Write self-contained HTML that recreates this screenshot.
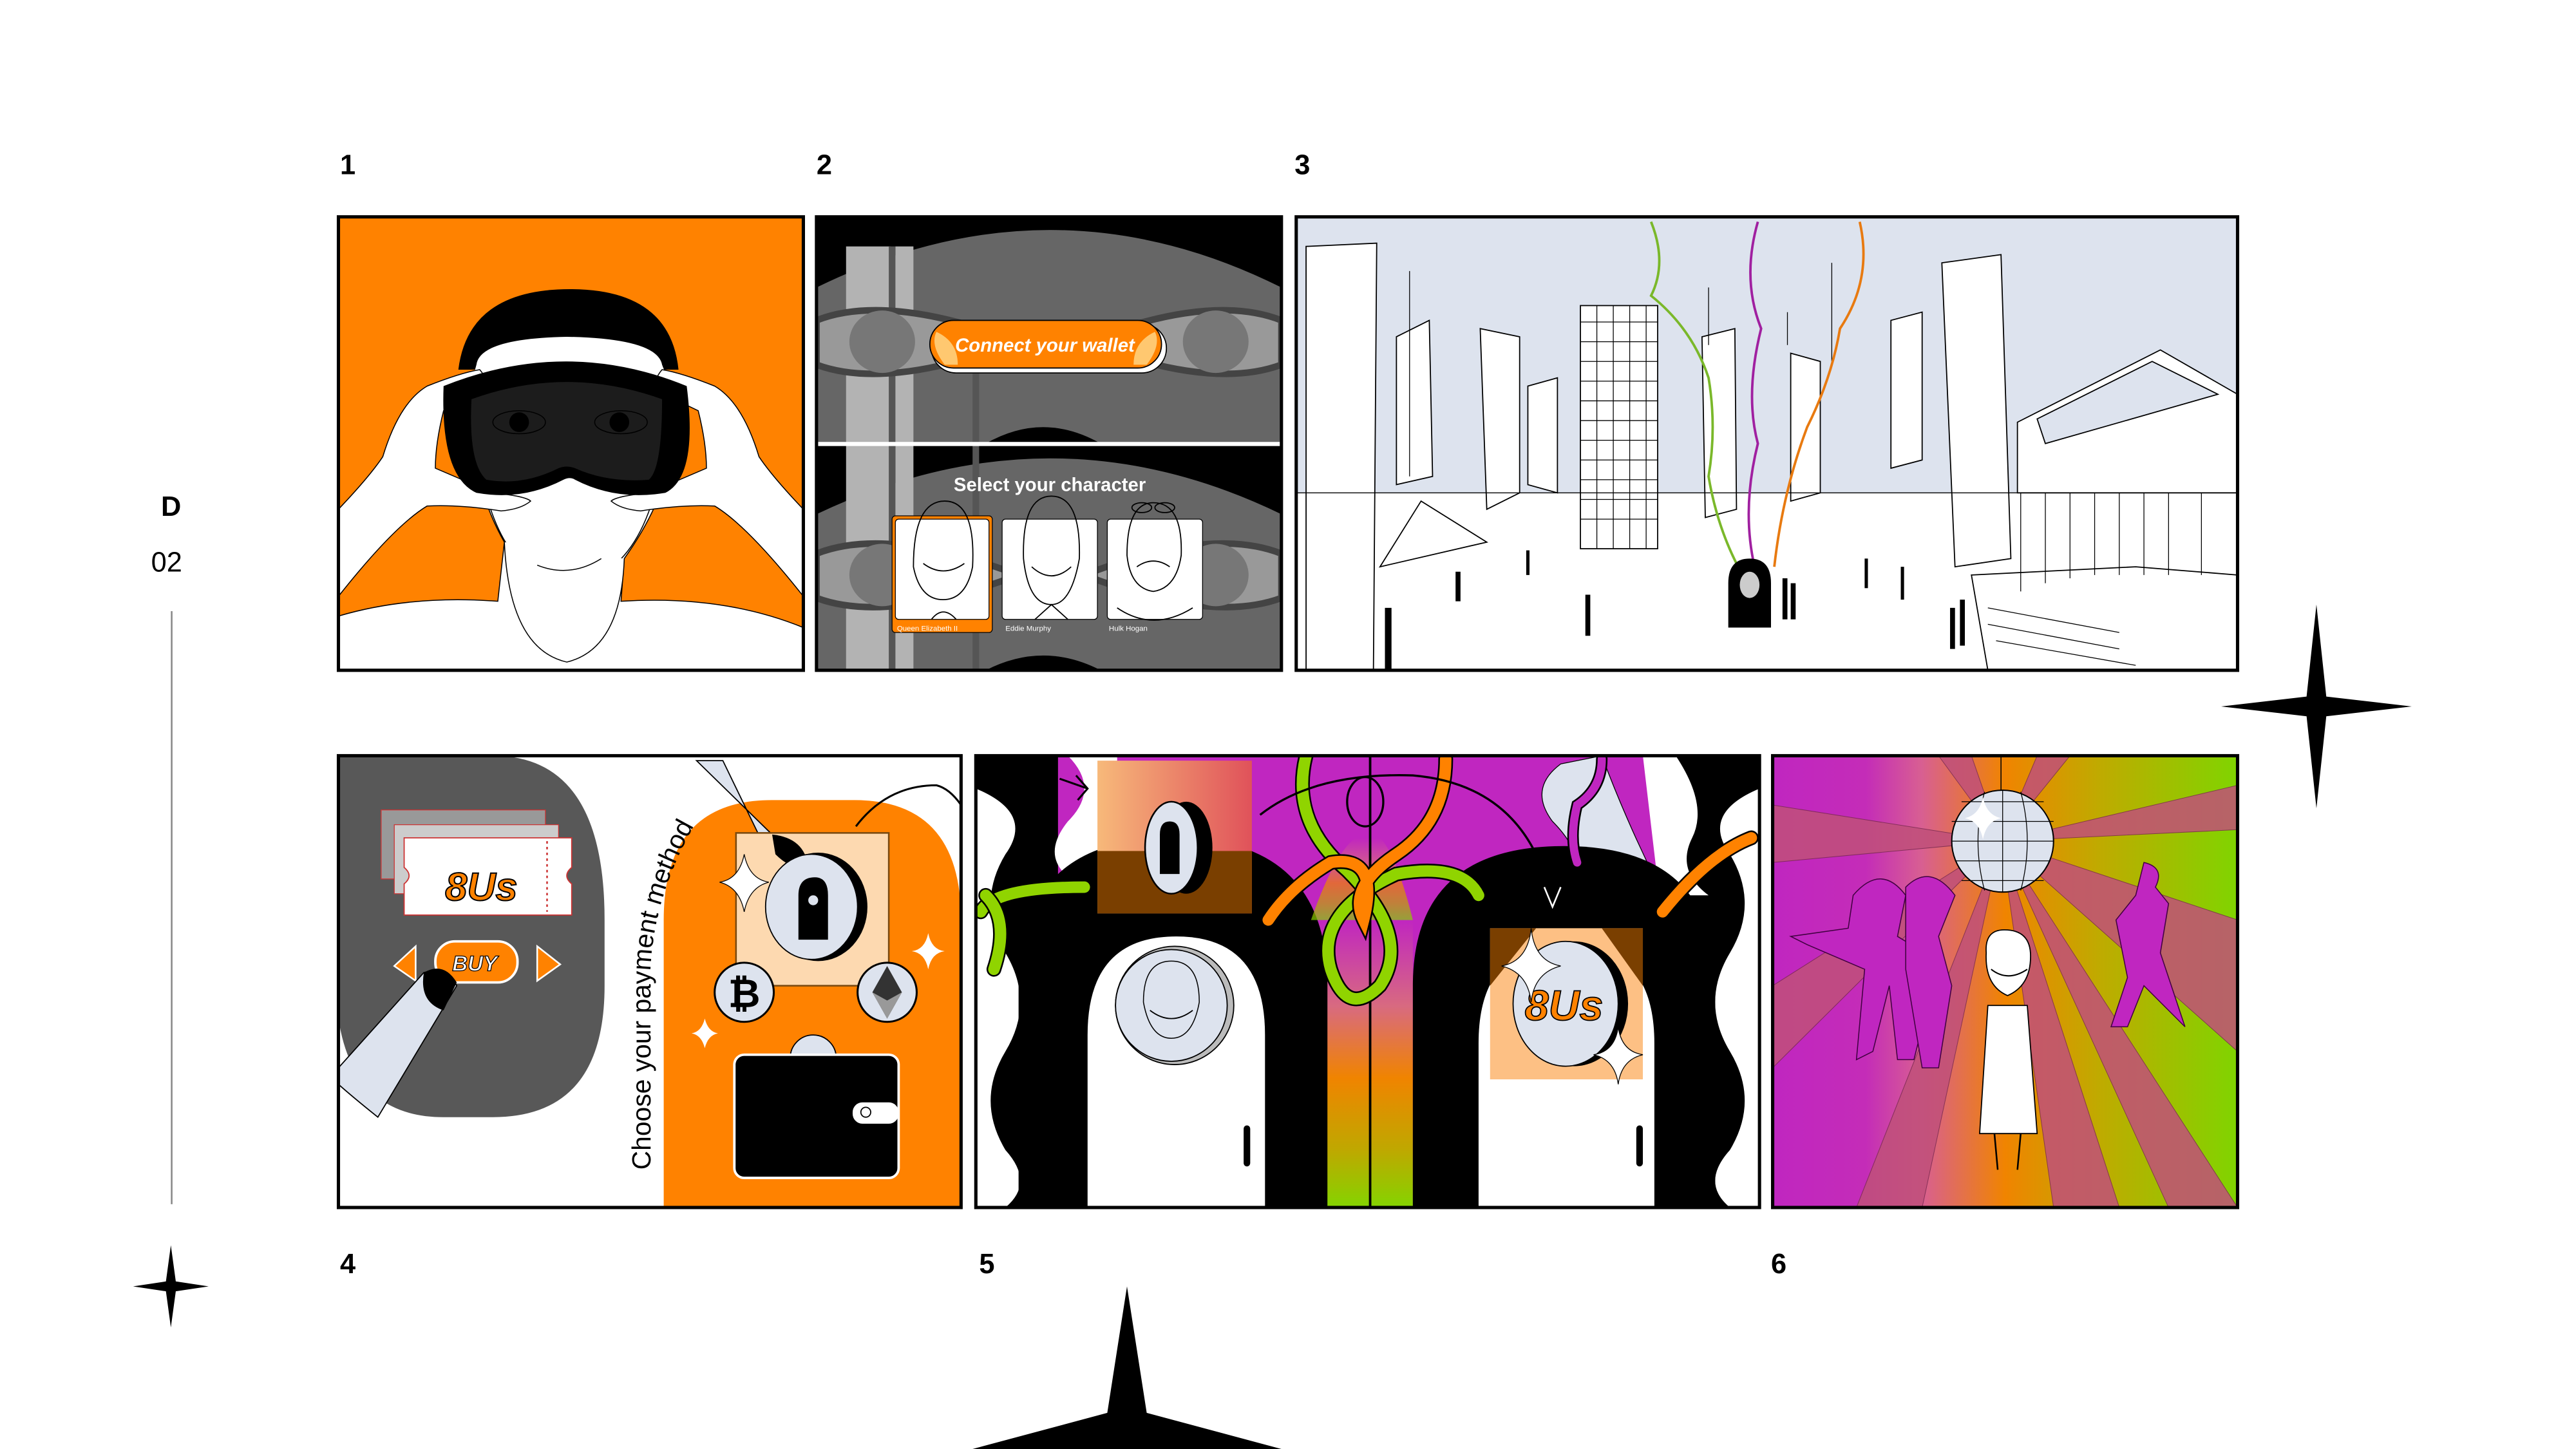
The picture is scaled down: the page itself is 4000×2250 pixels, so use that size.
<!DOCTYPE html>
<html><head><meta charset="utf-8"><style>
html,body{margin:0;padding:0;background:#fff;}
svg{display:block;}
text{font-family:"Liberation Sans",sans-serif;}
</style></head><body>
<svg width="4000" height="2250" viewBox="0 0 1568 882" xmlns="http://www.w3.org/2000/svg">
<defs>
<linearGradient id="g6" x1="0" x2="1" y1="0" y2="0">
<stop offset="0" stop-color="#c026c0"/><stop offset="0.2" stop-color="#c42cb8"/><stop offset="0.32" stop-color="#d85f92"/><stop offset="0.5" stop-color="#f08400"/><stop offset="0.7" stop-color="#c0aa00"/><stop offset="1" stop-color="#80d400"/>
</linearGradient>
<linearGradient id="g5c" x1="0" x2="0" y1="0" y2="1">
<stop offset="0" stop-color="#c026c0"/><stop offset="0.3" stop-color="#d86a80"/><stop offset="0.55" stop-color="#f08400"/><stop offset="0.8" stop-color="#bfa800"/><stop offset="1" stop-color="#84d400"/>
</linearGradient>
<linearGradient id="sq" x1="0" x2="1" y1="0" y2="0">
<stop offset="0" stop-color="#f7b97a"/><stop offset="1" stop-color="#e0525a"/>
</linearGradient>
<clipPath id="c1"><rect x="206" y="132" width="283" height="276"/></clipPath>
<clipPath id="c2"><rect x="497" y="132" width="283" height="276"/></clipPath>
<clipPath id="c3"><rect x="789" y="132" width="573" height="276"/></clipPath>
<clipPath id="c4"><rect x="206" y="460" width="379" height="275"/></clipPath>
<clipPath id="c5"><rect x="594" y="460" width="477" height="275"/></clipPath>
<clipPath id="c6"><rect x="1079" y="460" width="283" height="275"/></clipPath>
</defs>

<g font-family="Liberation Sans" font-weight="bold" font-size="17" fill="#000">
<text x="207" y="106">1</text><text x="497" y="106">2</text><text x="788" y="106">3</text>
<text x="207" y="775">4</text><text x="596" y="775">5</text><text x="1078" y="775">6</text>
<text x="98" y="314">D</text>
</g>
<text x="92" y="348" font-family="Liberation Mono" font-size="17" fill="#000">02</text>
<line x1="104.5" y1="372" x2="104.5" y2="733" stroke="#888" stroke-width="1"/>

<path d="M1410 368 L1416 424 L1468 430 L1416 436 L1410 492 L1404 436 L1352 430 L1404 424Z" fill="#000"/>
<path d="M104 758 L107 780 L127 783 L107 786 L104 808 L101 786 L81 783 L101 780Z" fill="#000"/>
<path d="M686 783 L698 860 L780 882 L592 882 L674 860Z" fill="#000"/>

<!-- PANEL 1 -->
<g clip-path="url(#c1)">
<rect x="206" y="132" width="283" height="276" fill="#ff8200"/>
<path d="M206 375 Q250 362 303 366 L307 330 Q290 300 290 270 L410 270 Q405 305 380 340 L378 366 Q440 362 489 382 L489 408 L206 408Z" fill="#fff" stroke="#000" stroke-width="0.6"/>
<path d="M290 270 Q300 350 345 357 Q395 350 404 270Z" fill="#fff" stroke="#000" stroke-width="0.6"/>
<path d="M307 330 Q310 395 345 403 Q378 395 380 340" fill="#fff" stroke="#000" stroke-width="0.6"/>
<path d="M327 344 Q347 352 366 340" fill="none" stroke="#000" stroke-width="0.6"/>
<path d="M279 225 Q285 176 347 176 Q408 176 413 225Z" fill="#000"/>
<path d="M290 222 Q292 206 345 205 Q400 206 403 222 L410 240 L285 240Z" fill="#fff"/>
<path d="M206 310 Q225 290 233 278 Q243 245 260 235 Q280 227 292 225 Q298 232 295 238 L270 250 Q265 270 265 285 L300 300 Q320 302 323 305 Q317 310 305 311 Q280 307 260 308 Q240 320 206 363Z" fill="#fff" stroke="#000" stroke-width="0.6"/>
<path d="M489 310 Q470 290 462 278 Q452 245 435 235 Q415 227 403 225 Q397 232 400 238 L425 250 Q430 270 430 285 L395 300 Q375 302 372 305 Q378 310 390 311 Q415 307 435 308 Q455 320 489 363Z" fill="#fff" stroke="#000" stroke-width="0.6"/>
<path d="M270 235 Q345 205 418 235 Q425 290 405 300 Q375 305 350 292 Q347 290 343 292 Q318 305 290 300 Q268 290 270 235Z" fill="#000"/>
<path d="M287 243 Q345 222 403 243 Q403 285 395 292 Q370 294 350 285 Q345 283 340 285 Q318 296 296 292 Q285 282 287 243Z" fill="#1c1c1c"/>
<ellipse cx="316" cy="257" rx="16" ry="7" fill="none" stroke="#000" stroke-width="0.6"/><circle cx="316" cy="257" r="6" fill="#000"/>
<ellipse cx="378" cy="257" rx="16" ry="7" fill="none" stroke="#000" stroke-width="0.6"/><circle cx="377" cy="257" r="6" fill="#000"/>
</g>
<rect x="206" y="132" width="283" height="276" fill="none" stroke="#000" stroke-width="2"/>

<!-- PANEL 2 -->
<g clip-path="url(#c2)">
<rect x="497" y="132" width="283" height="276" fill="#000"/>
<path d="M497 175 Q640 105 780 175 L780 270 L497 270Z" fill="#666"/>
<path d="M497 313 Q640 245 780 313 L780 408 L497 408Z" fill="#666"/>
<rect x="515" y="150" width="27" height="258" fill="#b3b3b3"/>
<rect x="545" y="150" width="11" height="258" fill="#b3b3b3"/>
<rect x="541" y="150" width="4" height="258" fill="#555"/>
<rect x="592" y="225" width="4" height="183" fill="#555"/>
<path d="M497 195 Q540 178 620 208 Q540 238 497 222Z" fill="#999" stroke="#444" stroke-width="4"/>
<path d="M780 195 Q737 178 660 208 Q737 238 780 222Z" fill="#999" stroke="#444" stroke-width="4"/>
<ellipse cx="537" cy="208" rx="20" ry="19" fill="#777"/><ellipse cx="740" cy="208" rx="20" ry="19" fill="#777"/>
<path d="M497 337 Q540 320 620 350 Q540 380 497 364Z" fill="#999" stroke="#444" stroke-width="4"/>
<path d="M780 337 Q737 320 660 350 Q737 380 780 364Z" fill="#999" stroke="#444" stroke-width="4"/>
<ellipse cx="537" cy="350" rx="20" ry="19" fill="#777"/><ellipse cx="740" cy="350" rx="20" ry="19" fill="#777"/>
<path d="M600 270 Q635 250 670 270Z" fill="#000"/>
<path d="M600 408 Q635 390 670 408Z" fill="#000"/>
<rect x="497" y="269" width="283" height="2.5" fill="#fff"/>
<rect x="567" y="197" width="143" height="30" rx="15" fill="#fff" stroke="#000" stroke-width="0.7"/>
<rect x="566" y="195" width="141" height="29" rx="14.5" fill="#ff8200" stroke="#000" stroke-width="0.7"/>
<path d="M570 202 Q583 208 583 222 L575 222 Q566 210 570 202Z M703 202 Q690 208 690 222 L698 222 Q707 210 703 202Z" fill="#ffc870"/>
<text x="636" y="214" text-anchor="middle" font-size="11.5" font-weight="bold" font-style="italic" fill="#fff">Connect your wallet</text>
<text x="639" y="299" text-anchor="middle" font-size="11.5" font-weight="bold" fill="#fff">Select your character</text>
<rect x="543" y="314" width="61" height="71" rx="2" fill="#ff8200" stroke="#000" stroke-width="0.5"/>
<rect x="545" y="316" width="57" height="61" rx="2" fill="#fff" stroke="#000" stroke-width="0.5"/>
<rect x="610" y="316" width="58" height="61" rx="2" fill="#fff" stroke="#000" stroke-width="0.5"/>
<rect x="674" y="316" width="58" height="61" rx="2" fill="#fff" stroke="#000" stroke-width="0.5"/>
<g fill="none" stroke="#000" stroke-width="0.7">
<path d="M556 345 Q556 305 575 305 Q594 305 592 345 Q588 365 574 365 Q560 365 556 345Z"/>
<path d="M562 343 Q574 352 587 343"/><path d="M567 377 Q574 368 582 377"/>
<path d="M623 340 Q622 302 640 302 Q658 302 657 340 Q652 368 640 368 Q626 368 623 340Z"/>
<path d="M628 345 Q640 356 652 345"/><path d="M630 377 L640 368 L650 377"/>
<path d="M686 338 Q686 306 702 306 Q720 306 719 338 Q716 358 702 360 Q688 358 686 338Z"/>
<path d="M692 345 Q702 338 712 345"/><ellipse cx="695" cy="309" rx="6" ry="3"/><ellipse cx="709" cy="309" rx="6" ry="3"/>
<path d="M680 370 Q702 385 726 370"/>
</g>
<text x="546" y="384" font-size="4.5" fill="#fff">Queen Elizabeth II</text>
<text x="612" y="384" font-size="4.5" fill="#fff">Eddie Murphy</text>
<text x="675" y="384" font-size="4.5" fill="#fff">Hulk Hogan</text>
</g>
<rect x="497" y="132" width="283" height="276" fill="none" stroke="#000" stroke-width="2"/>

<!-- PANEL 3 -->
<g clip-path="url(#c3)">
<rect x="789" y="132" width="573" height="276" fill="#dde3ee"/>
<rect x="789" y="300" width="573" height="108" fill="#fff"/>
<g fill="#fff" stroke="#000" stroke-width="0.7">
<path d="M795 150 L838 148 L836 408 L795 408Z"/>
<path d="M850 205 L870 195 L872 290 L850 295Z"/>
<path d="M901 200 L925 205 L925 300 L905 310Z"/>
<path d="M930 235 L948 230 L948 300 L930 295Z"/>
<rect x="962" y="186" width="47" height="148"/>
<path d="M1036 205 L1056 200 L1057 310 L1038 315Z"/>
<path d="M1090 215 L1108 220 L1108 300 L1090 305Z"/>
<path d="M1151 195 L1170 190 L1170 280 L1151 285Z"/>
<path d="M1182 160 L1218 155 L1224 340 L1190 345Z"/>
<path d="M1228 257 L1315 213 L1362 240 L1362 300 L1228 300Z"/>
<path d="M1240 255 L1310 220 L1350 240 L1245 270Z" fill="#dde3ee"/>
<path d="M840 345 L865 305 L905 330Z"/>
<path d="M1200 350 L1300 345 L1362 350 L1362 408 L1210 408Z"/>
</g>
<g stroke="#000" stroke-width="0.5">
<path d="M962 196 H1009 M962 208 H1009 M962 220 H1009 M962 232 H1009 M962 244 H1009 M962 256 H1009 M962 268 H1009 M962 280 H1009 M962 292 H1009 M962 304 H1009 M962 316 H1009"/>
<path d="M972 186 V334 M982 186 V334 M992 186 V334 M1002 186 V334"/>
<path d="M789 300 H1362"/>
<path d="M1230 300 V360 M1245 300 V355 M1260 300 V352 M1275 300 V350 M1290 300 V350 M1305 300 V350 M1320 300 V350 M1340 300 V350"/>
<path d="M1210 370 L1290 385 M1210 380 L1290 395 M1215 390 L1300 405"/>
<path d="M858 165 V290 M1040 175 V210 M1115 160 V220 M1088 190 V210"/>
</g>
<path d="M1005 135 Q1015 160 1005 180 Q1030 200 1040 230 Q1045 260 1040 290 Q1045 320 1058 345" fill="none" stroke="#7ab82a" stroke-width="1.5"/>
<path d="M1070 135 Q1060 170 1072 200 Q1062 240 1070 270 Q1060 310 1068 345" fill="none" stroke="#a020a0" stroke-width="1.5"/>
<path d="M1132 135 Q1140 170 1120 200 Q1115 230 1100 260 Q1085 300 1080 345" fill="none" stroke="#e87a10" stroke-width="1.5"/>
<path d="M1052 382 V355 Q1052 340 1065 340 Q1078 340 1078 355 V382Z" fill="#000"/>
<ellipse cx="1065" cy="356" rx="6" ry="8" fill="#ccc"/>
<g fill="#000">
<rect x="843" y="370" width="4" height="38"/><rect x="965" y="362" width="3" height="25"/><rect x="886" y="348" width="3" height="18"/><rect x="929" y="335" width="2" height="15"/><rect x="1085" y="352" width="3" height="25"/><rect x="1090" y="355" width="3" height="22"/><rect x="1135" y="340" width="2" height="18"/><rect x="1157" y="345" width="2" height="20"/><rect x="1187" y="370" width="3" height="25"/><rect x="1193" y="365" width="3" height="28"/>
</g>
</g>
<rect x="789" y="132" width="573" height="276" fill="none" stroke="#000" stroke-width="2"/>

<!-- PANEL 4 -->
<g clip-path="url(#c4)">
<rect x="206" y="460" width="379" height="275" fill="#fff"/>
<path d="M206 460 H300 Q368 460 368 560 V600 Q368 680 300 680 H270 Q215 680 206 620Z" fill="#585858"/>
<path d="M404 735 V560 Q404 487 470 487 H520 Q585 487 585 560 V735Z" fill="#ff8200"/>
<rect x="232" y="493" width="100" height="42" fill="#999" stroke="#c33" stroke-width="0.5"/>
<rect x="240" y="502" width="100" height="42" fill="#ccc" stroke="#c33" stroke-width="0.5"/>
<path d="M246 510 H348 V528 Q342 533 348 538 V557 H246 V538 Q252 533 246 528Z" fill="#fff" stroke="#c33" stroke-width="0.7"/>
<line x1="333" y1="512" x2="333" y2="555" stroke="#c33" stroke-width="1" stroke-dasharray="1.5 2"/>
<text x="293" y="548" text-anchor="middle" font-size="24" font-weight="bold" font-style="italic" fill="#ff8200" stroke="#000" stroke-width="0.8">8Us</text>
<rect x="265" y="573" width="50" height="25" rx="12" fill="#ff8200" stroke="#fff" stroke-width="1.5"/>
<text x="289" y="591" text-anchor="middle" font-size="13" font-weight="bold" font-style="italic" fill="#fff" stroke="#000" stroke-width="0.5">BUY</text>
<path d="M253 576 L240 588 L253 597Z M327 576 L341 587 L327 597Z" fill="#ff8200" stroke="#fff" stroke-width="1"/>
<path d="M206 650 L258 592 Q272 588 278 600 L230 680 Q215 668 206 660Z" fill="#dde3ee" stroke="#000" stroke-width="0.7"/>
<path d="M258 592 Q270 585 278 598 L270 615 Q255 610 258 592Z" fill="#000"/>
<path d="M424 463 L470 508 Q490 520 492 530 Q480 535 470 525 L440 463Z" fill="#dde3ee" stroke="#000" stroke-width="0.7"/>
<rect x="448" y="507" width="93" height="93" fill="#fdd9b0" stroke="#7a4a10" stroke-width="1"/>
<path d="M470 508 Q490 510 492 528 Q482 530 472 520Z" fill="#000"/>
<ellipse cx="498" cy="552" rx="30" ry="33" fill="#000"/>
<ellipse cx="494" cy="552" rx="28" ry="32" fill="#dde3ee" stroke="#000" stroke-width="0.7"/>
<path d="M486 572 V545 Q486 534 496 534 Q504 534 504 545 V572Z" fill="#000"/>
<circle cx="495" cy="548" r="3" fill="#dde3ee"/>
<circle cx="453" cy="604" r="18" fill="#dde3ee" stroke="#000" stroke-width="1.2"/>
<text x="453" y="613" text-anchor="middle" font-size="24" font-weight="bold" fill="#000">₿</text>
<circle cx="540" cy="604" r="18" fill="#dde3ee" stroke="#000" stroke-width="1.2"/>
<path d="M540 588 L549 604 L540 620 L531 604Z" fill="#333"/>
<path d="M531 604 L540 609 L549 604 L540 620Z" fill="#999"/>
<circle cx="495" cy="644" r="14" fill="#dde3ee" stroke="#000" stroke-width="0.7"/>
<rect x="447" y="642" width="100" height="75" rx="6" fill="#000" stroke="#fff" stroke-width="1.5"/>
<rect x="519" y="671" width="28" height="13" rx="6" fill="#fff"/><circle cx="527" cy="677" r="3" fill="none" stroke="#000" stroke-width="0.7"/>
<path d="M453 520 Q456 535 468 537 Q456 540 453 555 Q450 540 438 537 Q450 535 453 520Z" fill="#fff" stroke="#000" stroke-width="0.5"/>
<path d="M565 568 Q567 578 575 579 Q567 580 565 590 Q563 580 555 579 Q563 578 565 568Z" fill="#fff"/>
<path d="M429 620 Q431 628 437 629 Q431 630 429 638 Q427 630 421 629 Q427 628 429 620Z" fill="#fff"/>
<path d="M521 503 Q540 478 570 478 Q578 480 585 490" fill="none" stroke="#000" stroke-width="1.2"/>
<path id="tp" d="M396 712 V590 Q398 540 430 490" fill="none"/>
<text font-size="16" fill="#000"><textPath href="#tp">Choose your payment method</textPath></text>
</g>
<rect x="206" y="460" width="379" height="275" fill="none" stroke="#000" stroke-width="2"/>

<!-- PANEL 5 -->
<g clip-path="url(#c5)">
<rect x="594" y="460" width="477" height="275" fill="#c026c0"/>
<rect x="594" y="460" width="50" height="275" fill="#000"/>
<rect x="1020" y="460" width="51" height="275" fill="#000"/>
<path d="M594 480 Q630 495 612 520 Q594 550 612 580 Q630 610 612 640 Q594 670 612 700 Q630 720 612 735 H594Z" fill="#fff"/>
<path d="M650 460 Q670 480 650 500 Q630 525 660 540 L680 540 L680 460Z" fill="#fff"/>
<path d="M1071 480 Q1035 495 1053 520 Q1071 550 1053 580 Q1035 610 1053 640 Q1071 670 1053 700 Q1035 720 1053 735 H1071Z" fill="#fff"/>
<path d="M1020 460 Q1040 490 1030 510 Q1020 530 1040 545 L1010 545 L1000 460Z" fill="#fff"/>
<path d="M950 465 Q930 480 945 500 Q965 520 960 540 L1010 540 Q990 500 975 460Z" fill="#dde3ee" stroke="#000" stroke-width="0.5"/>
<rect x="798" y="560" width="62" height="175" fill="url(#g5c)"/>
<path d="M620 735 V600 Q620 510 714 510 Q808 510 808 600 V735Z" fill="#000"/>
<path d="M662 735 V630 Q662 570 716 570 Q770 570 770 630 V735Z" fill="#fff"/>
<path d="M860 735 V600 Q860 515 952 515 Q1044 515 1044 600 V735Z" fill="#000"/>
<path d="M900 735 V635 Q900 575 953 575 Q1007 575 1007 635 V735Z" fill="#fff"/>
<path d="M798 560 Q812 520 825 510 L840 510 Q850 520 860 560Z" fill="url(#g5c)" opacity="0.7"/>
<line x1="834" y1="460" x2="834" y2="735" stroke="#000" stroke-width="1.5"/>
<rect x="757" y="685" width="4" height="25" rx="2" fill="#000"/><rect x="996" y="685" width="4" height="25" rx="2" fill="#000"/>
<rect x="668" y="463" width="94" height="93" fill="url(#sq)"/>
<rect x="668" y="518" width="94" height="38" fill="#7a3f00"/>
<ellipse cx="722" cy="516" rx="16" ry="28" fill="#000"/>
<ellipse cx="713" cy="516" rx="16" ry="28" fill="#dde3ee" stroke="#000" stroke-width="1"/>
<path d="M706 532 V508 Q706 500 712 500 Q718 500 718 508 V532Z" fill="#000"/>
<circle cx="715" cy="612" r="36" fill="#bbb" stroke="#000" stroke-width="0.7"/>
<circle cx="713" cy="612" r="34" fill="#dde3ee" stroke="#000" stroke-width="0.7"/>
<path d="M696 610 Q696 585 713 585 Q730 585 730 610 Q726 632 713 632 Q700 632 696 610Z" fill="none" stroke="#000" stroke-width="0.6"/>
<path d="M700 615 Q713 625 726 615" fill="none" stroke="#000" stroke-width="0.7"/>
<rect x="907" y="565" width="93" height="92" fill="#fdc084"/>
<path d="M907 565 H935 L907 600Z M975 565 H1000 V600Z" fill="#7a3f00"/>
<ellipse cx="958" cy="611" rx="33" ry="38" fill="#000"/>
<ellipse cx="953" cy="611" rx="32" ry="38" fill="#dde3ee" stroke="#000" stroke-width="0.7"/>
<text x="952" y="621" text-anchor="middle" font-size="26" font-weight="bold" font-style="italic" fill="#ff8200" stroke="#000" stroke-width="0.7">8Us</text>
<path d="M932 565 Q934 585 950 588 Q934 592 932 610 Q930 592 914 588 Q930 585 932 565Z" fill="#fff" stroke="#000" stroke-width="0.5"/>
<path d="M985 625 Q987 640 1000 642 Q987 645 985 660 Q983 645 970 642 Q983 640 985 625Z" fill="#fff" stroke="#000" stroke-width="0.5"/>
<g fill="none" stroke-linecap="round">
<path d="M597 555 Q605 540 660 540" stroke="#000" stroke-width="9"/><path d="M597 555 Q605 540 660 540" stroke="#90d400" stroke-width="7"/>
<path d="M600 545 Q615 560 605 590" stroke="#000" stroke-width="9"/><path d="M600 545 Q615 560 605 590" stroke="#90d400" stroke-width="7"/>
<path d="M795 460 Q785 500 820 530 Q860 570 840 600 Q820 620 810 590 Q800 555 850 532 Q890 525 900 545" stroke="#000" stroke-width="9"/>
<path d="M795 460 Q785 500 820 530 Q860 570 840 600 Q820 620 810 590 Q800 555 850 532 Q890 525 900 545" stroke="#90d400" stroke-width="7"/>
<path d="M880 462 Q880 500 850 520 Q820 540 830 560 Q840 520 810 525 Q785 540 772 560" stroke="#000" stroke-width="9"/>
<path d="M880 462 Q880 500 850 520 Q820 540 830 560 Q840 520 810 525 Q785 540 772 560" stroke="#ff8200" stroke-width="7"/>
<path d="M1066 510 Q1040 520 1012 555" stroke="#000" stroke-width="9"/><path d="M1066 510 Q1040 520 1012 555" stroke="#ff8200" stroke-width="7"/>
<path d="M975 462 Q975 480 960 490 Q955 510 960 525" stroke="#000" stroke-width="7"/><path d="M975 462 Q975 480 960 490 Q955 510 960 525" stroke="#c026c0" stroke-width="5"/>
</g>
<path d="M767 496 Q800 470 860 472 Q930 478 945 550" fill="none" stroke="#000" stroke-width="1.3"/>
<path d="M940 540 L945 552 L950 540" fill="none" stroke="#fff" stroke-width="1"/>
<ellipse cx="831" cy="488" rx="11" ry="15" fill="none" stroke="#000" stroke-width="1.3"/>
<path d="M645 474 L662 480 M655 472 L662 480 L656 487" fill="none" stroke="#000" stroke-width="1.2"/>
</g>
<rect x="594" y="460" width="477" height="275" fill="none" stroke="#000" stroke-width="2"/>

<!-- PANEL 6 -->
<g clip-path="url(#c6)">
<rect x="1079" y="460" width="283" height="275" fill="url(#g6)"/>
<g fill="#c0507a" opacity="0.85" stroke="#7a2a50" stroke-width="0.4">
<path d="M1218 512 L1362 478 L1362 505Z"/>
<path d="M1218 512 L1362 560 L1362 640Z"/>
<path d="M1218 512 L1362 735 L1320 735Z"/>
<path d="M1218 512 L1250 735 L1290 735Z"/>
<path d="M1218 512 L1079 525 L1079 490Z"/>
<path d="M1218 512 L1079 600 L1079 650Z"/>
<path d="M1218 512 L1130 735 L1170 735Z"/>
<path d="M1218 512 L1240 460 L1260 460Z"/>
<path d="M1218 512 L1180 460 L1200 460Z"/>
</g>
<line x1="1218" y1="460" x2="1218" y2="482" stroke="#000" stroke-width="0.6"/>
<circle cx="1219" cy="512" r="31" fill="#dde3ee" stroke="#000" stroke-width="0.8"/>
<g stroke="#000" stroke-width="0.5" fill="none">
<path d="M1188 500 H1250 M1188 512 H1250 M1190 524 H1248 M1194 488 H1244 M1194 536 H1244"/>
<path d="M1208 482 Q1200 512 1208 542 M1219 481 V543 M1230 482 Q1238 512 1230 542"/>
</g>
<path d="M1207 485 Q1209 496 1218 498 Q1209 500 1207 511 Q1205 500 1196 498 Q1205 496 1207 485Z" fill="#fff"/>
<g fill="#c026c0" stroke="#400040" stroke-width="0.6">
<path d="M1128 545 Q1145 525 1160 545 L1155 570 L1180 585 L1165 645 L1155 645 L1150 600 L1140 640 L1130 645 L1135 590 L1100 575 L1090 570 L1125 565Z"/>
<path d="M1160 540 Q1175 525 1190 545 L1180 570 L1188 600 L1180 650 L1170 650 L1160 590Z"/>
<path d="M1305 525 L1300 545 L1288 560 L1295 595 L1285 625 L1295 625 L1305 600 L1325 620 L1330 625 L1315 580 L1320 550 L1312 540 Q1318 528 1305 525Z"/>
</g>
<path d="M1209 580 Q1208 566 1220 566 Q1236 566 1236 582 Q1236 600 1222 606 Q1208 600 1209 580Z" fill="#fff" stroke="#000" stroke-width="0.7"/>
<path d="M1212 590 Q1222 598 1234 590" fill="none" stroke="#000" stroke-width="0.8"/>
<path d="M1210 612 L1234 612 L1240 690 L1205 690Z" fill="#fff" stroke="#000" stroke-width="0.7"/>
<path d="M1214 690 L1216 712 M1230 690 L1228 712" stroke="#000" stroke-width="1"/>
</g>
<rect x="1079" y="460" width="283" height="275" fill="none" stroke="#000" stroke-width="2"/>
</svg>
</body></html>
